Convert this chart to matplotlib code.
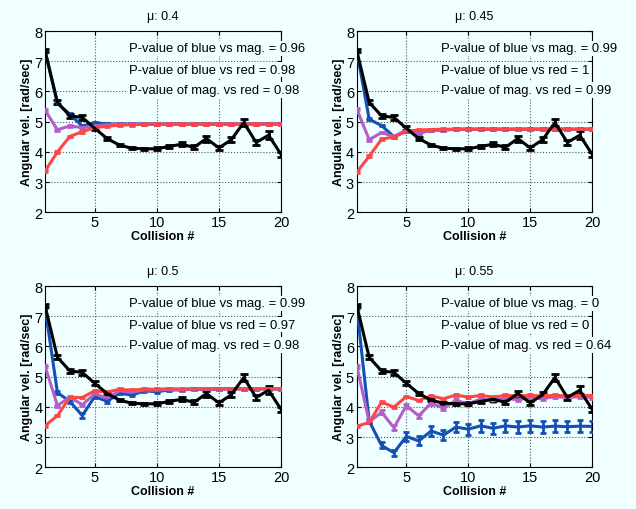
import numpy as np
import matplotlib
matplotlib.use("Agg")
from matplotlib import pyplot as plt

plt.rcParams['font.family'] = ['Liberation Sans', 'DejaVu Sans']

collision = np.arange(1, 21)

# black reference curve, identical in all four panels
black = [7.35, 5.64, 5.19, 5.14, 4.78, 4.44, 4.22, 4.12, 4.1, 4.1,
         4.18, 4.25, 4.15, 4.44, 4.13, 4.4, 4.97, 4.31, 4.55, 3.92]
black_err = [0.05, 0.07, 0.07, 0.07, 0.06, 0.05, 0.04, 0.04, 0.04, 0.05,
             0.05, 0.07, 0.06, 0.1, 0.07, 0.09, 0.12, 0.09, 0.13, 0.08]

titles = ["\u03bc: 0.4", "\u03bc: 0.45", "\u03bc: 0.5", "\u03bc: 0.55"]

blue = [
    [7.35, 5.6, 5.25, 4.85, 4.97, 4.92, 4.92, 4.92, 4.92, 4.92,
     4.92, 4.92, 4.92, 4.92, 4.92, 4.92, 4.92, 4.92, 4.92, 4.92],
    [7.35, 5.08, 4.87, 4.5, 4.68, 4.62, 4.72, 4.72, 4.75, 4.75,
     4.75, 4.75, 4.75, 4.75, 4.75, 4.75, 4.75, 4.75, 4.75, 4.75],
    [7.3, 4.47, 4.18, 3.71, 4.34, 4.18, 4.45, 4.39, 4.53, 4.5,
     4.56, 4.56, 4.59, 4.58, 4.59, 4.59, 4.6, 4.59, 4.6, 4.59],
    [7.3, 3.53, 2.72, 2.48, 3.02, 2.87, 3.2, 3.06, 3.33, 3.26,
     3.37, 3.29, 3.37, 3.33, 3.37, 3.33, 3.36, 3.34, 3.36, 3.35],
]
blue_err = [
    [0.03] * 20,
    [0.03] * 20,
    [0.03, 0.05, 0.05, 0.07, 0.05, 0.05, 0.04, 0.04, 0.03, 0.03,
     0.03, 0.03, 0.03, 0.03, 0.03, 0.03, 0.03, 0.03, 0.03, 0.03],
    [0.05, 0.08, 0.1, 0.1, 0.16, 0.15, 0.17, 0.16, 0.18, 0.18,
     0.19, 0.18, 0.19, 0.19, 0.19, 0.19, 0.19, 0.19, 0.19, 0.19],
]

magenta = [
    [5.38, 4.73, 4.86, 4.8, 4.86, 4.9, 4.91, 4.92, 4.92, 4.92,
     4.92, 4.92, 4.92, 4.92, 4.92, 4.92, 4.92, 4.92, 4.92, 4.92],
    [5.42, 4.4, 4.64, 4.51, 4.72, 4.62, 4.72, 4.73, 4.75, 4.75,
     4.75, 4.75, 4.75, 4.75, 4.75, 4.75, 4.75, 4.75, 4.75, 4.75],
    [5.35, 4.04, 4.32, 4.07, 4.43, 4.29, 4.53, 4.48, 4.56, 4.55,
     4.58, 4.57, 4.59, 4.58, 4.59, 4.59, 4.6, 4.59, 4.6, 4.59],
    [5.35, 3.5, 3.82, 3.31, 4.04, 3.7, 4.13, 3.95, 4.21, 4.1,
     4.26, 4.2, 4.29, 4.23, 4.31, 4.27, 4.34, 4.31, 4.34, 4.31],
]
magenta_err = [
    [0.03] * 20,
    [0.03] * 20,
    [0.03] * 20,
    [0.05, 0.05, 0.07, 0.08, 0.07, 0.07, 0.06, 0.06, 0.05, 0.05,
     0.05, 0.05, 0.05, 0.05, 0.05, 0.05, 0.05, 0.05, 0.05, 0.05],
]

red = [
    [3.36, 4.0, 4.51, 4.67, 4.8, 4.85, 4.88, 4.9, 4.91, 4.92,
     4.92, 4.92, 4.92, 4.92, 4.92, 4.92, 4.92, 4.92, 4.92, 4.92],
    [3.33, 3.85, 4.42, 4.49, 4.69, 4.72, 4.74, 4.75, 4.75, 4.75,
     4.75, 4.75, 4.75, 4.75, 4.75, 4.75, 4.75, 4.75, 4.75, 4.75],
    [3.37, 3.71, 4.31, 4.31, 4.53, 4.49, 4.58, 4.55, 4.59, 4.58,
     4.6, 4.59, 4.6, 4.6, 4.6, 4.6, 4.6, 4.6, 4.6, 4.6],
    [3.36, 3.48, 4.16, 3.99, 4.34, 4.21, 4.36, 4.27, 4.39, 4.32,
     4.38, 4.32, 4.38, 4.36, 4.38, 4.36, 4.38, 4.36, 4.38, 4.37],
]
red_err = [[0.03] * 20 for _ in range(4)]

pvalue_labels = [
    ["0.96", "0.98", "0.98"],
    ["0.99", "1", "0.99"],
    ["0.99", "0.97", "0.98"],
    ["0", "0", "0.64"],
]

BG = "#f0ffff"
BLUE = "#1450b4"
MAGENTA = "#b45ec8"
RED = "#ff4646"

fig = plt.figure(figsize=(6.36, 5.10), dpi=100, facecolor=BG)

positions = [
    [0.0708, 0.582, 0.371, 0.355],
    [0.561, 0.582, 0.370, 0.355],
    [0.0708, 0.082, 0.371, 0.355],
    [0.561, 0.082, 0.370, 0.355],
]

for i in range(4):
    ax = fig.add_axes(positions[i])
    ax.set_facecolor(BG)

    def draw(vals, errs, color, cap=2.5):
        ax.errorbar(collision, vals, yerr=errs, color=color, lw=2.2,
                    elinewidth=2, capsize=cap, capthick=2, zorder=3)

    draw(blue[i], blue_err[i], BLUE)
    draw(magenta[i], magenta_err[i], MAGENTA)
    draw(red[i], red_err[i], RED)
    draw(black, black_err, "black", cap=3)

    ax.set_xlim(1, 20)
    ax.set_ylim(2, 8)
    ax.set_xticks([5, 10, 15, 20])
    ax.set_yticks([2, 3, 4, 5, 6, 7, 8])
    ax.grid(True, linestyle=":", color="#555555", lw=0.8)
    ax.tick_params(direction="in", top=True, right=True, labelsize=10.5,
                   length=3, pad=2)
    for s in ax.spines.values():
        s.set_linewidth(0.8)

    ax.set_title(titles[i], fontsize=9, pad=9)
    ax.set_xlabel("Collision #", fontsize=9, fontweight="bold", labelpad=1)
    ax.set_ylabel("Angular vel. [rad/sec]", fontsize=9, fontweight="bold",
                  labelpad=1)

    p = pvalue_labels[i]
    texts = ["P-value of blue vs mag. = " + p[0],
             "P-value of blue vs red = " + p[1],
             "P-value of mag. vs red = " + p[2]]
    for t, yv in zip(texts, [7.43, 6.72, 6.05]):
        ax.text(7.8, yv, t, fontsize=9.4, va="center", ha="left",
                clip_on=False, zorder=5,
                bbox=dict(facecolor=BG, edgecolor="none", pad=1.2))

fig.savefig("out.png", dpi=100, facecolor=BG)
